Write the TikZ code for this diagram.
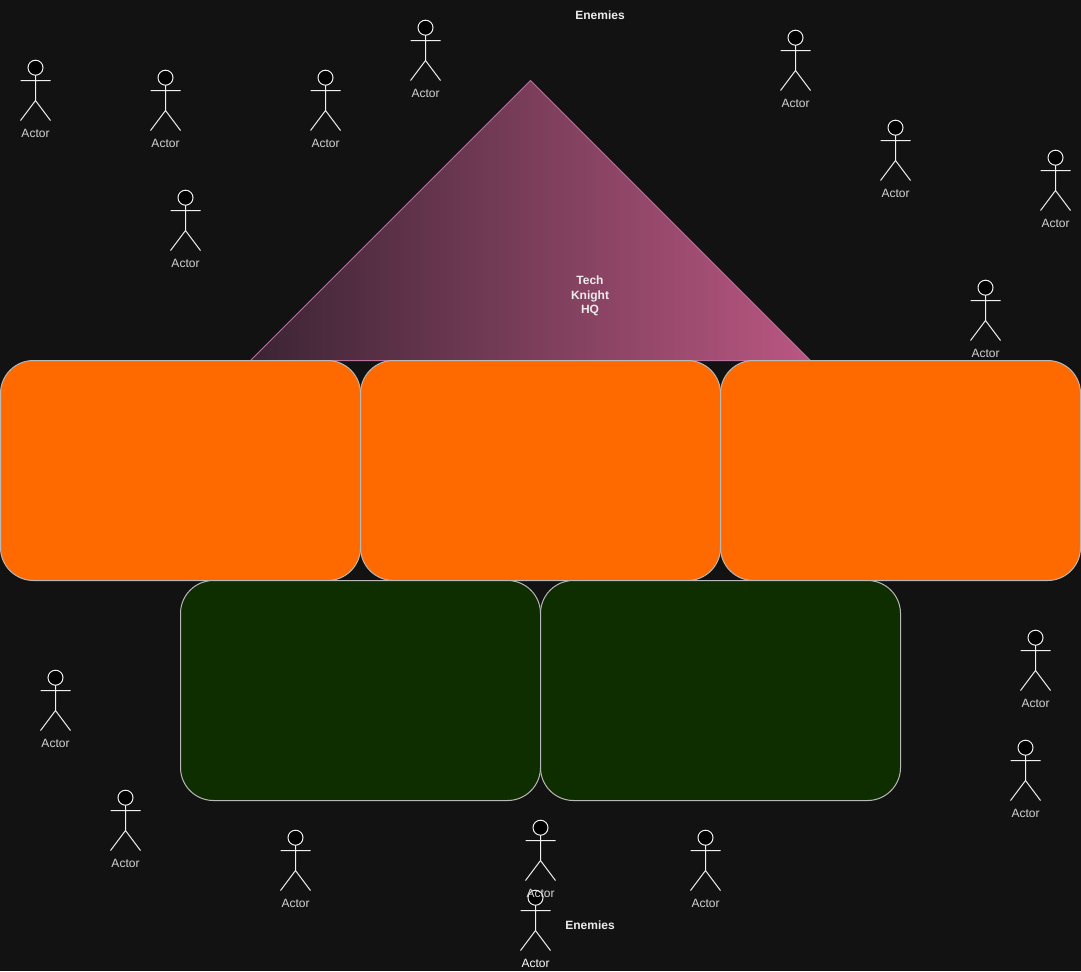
\documentclass[tikz,border=0pt]{standalone}
\usepackage{fontspec}
\setmainfont{Liberation Sans}
\definecolor{bgdark}{HTML}{121212}
\definecolor{orangefill}{HTML}{FF6A00}
\definecolor{greenfill}{HTML}{0F2E00}
\definecolor{boxborder}{HTML}{B8B8B8}
\definecolor{triborder}{HTML}{B5739D}
\definecolor{trileft}{HTML}{3B2433}
\definecolor{triright}{HTML}{BA5782}
\definecolor{actorline}{HTML}{F0F0F0}
\definecolor{actortext}{HTML}{D4D4D4}
\definecolor{boldtext}{HTML}{ECECEC}
\begin{document}
\begin{tikzpicture}[x=0.75pt,y=-0.75pt,line width=0.75pt,
  roundbox/.style={draw=boxborder,minimum width=270pt,minimum height=165pt,inner sep=0pt,rounded corners=24.75pt},
  orangebox/.style={roundbox,fill=orangefill},
  greenbox/.style={roundbox,fill=greenfill},
  boldlabel/.style={text=boldtext,font=\bfseries\fontsize{9}{10.8}\selectfont,align=center,inner sep=0pt},
  actorlabel/.style={text=actortext,font=\fontsize{9}{10.5}\selectfont,inner sep=0pt},
  actor/.pic={
    \draw[actorline,fill=black] (0,7.2) circle[radius=7.5];
    \draw[actorline,line join=round] (0,14.7) -- (0,40) (-15,20) -- (15,20) (-15,60) -- (0,40) -- (15,60);
    \node[actorlabel] (-label) at (0,73.2) {Actor};
  }]
\useasboundingbox (0,0) rectangle (1081,971);
\fill[bgdark] (0,0) rectangle (1081,971);

\path[draw=triborder,shading=axis,left color=trileft,right color=triright,shading angle=90]
  (530.5,80.5) coordinate (apex) -- (810.5,360.5) coordinate (baseR) -- (250.5,360.5) coordinate (baseL) -- cycle;
\node[boldlabel] (hq) at (590,296) {Tech\\Knight\\HQ};

\node[orangebox] (o1) at (180.5,470.5) {};
\node[orangebox] (o2) at (540.5,470.5) {};
\node[orangebox] (o3) at (900.5,470.5) {};
\node[greenbox] (g1) at (360.5,690.5) {};
\node[greenbox] (g2) at (720.5,690.5) {};

\node[boldlabel] (enemiesTop) at (600,15) {Enemies};
\node[boldlabel] (enemiesBottom) at (590,925) {Enemies};

\foreach \n/\cx/\ty in {a1/35/60,a2/165/70,a3/325/70,a4/425/20,a5/795/30,a6/895/120,a7/1055/150,a8/185/190,a9/985/280,a10/1035/630,a11/1025/740,a12/55/670,a13/125/790,a14/295/830,a15/705/830}
  \pic (\n) at (\cx+0.5,\ty+0.5) {actor};
\begin{scope}[actorlabel/.append style={text=white}]
  \pic (a17) at (535.5,890.5) {actor};
\end{scope}
\pic (a16) at (540.5,820.5) {actor};
\end{tikzpicture}
\end{document}
